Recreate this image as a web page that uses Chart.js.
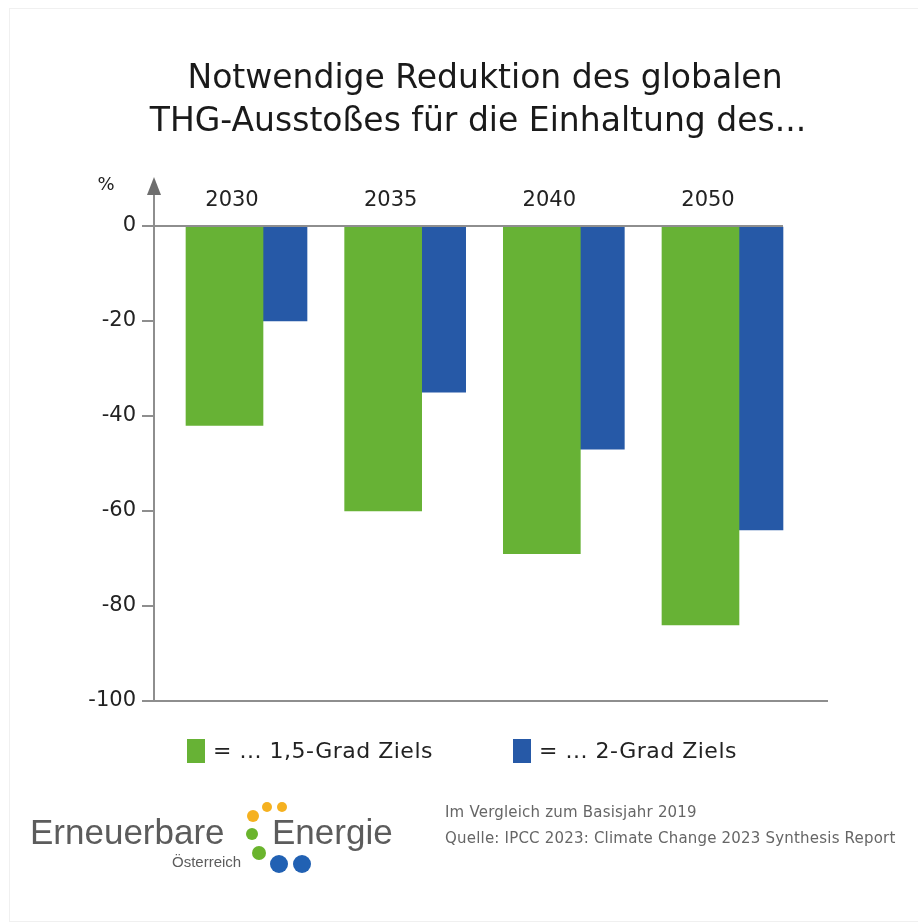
<!DOCTYPE html>
<html>
<head>
<meta charset="utf-8">
<script src="https://cdn.jsdelivr.net/npm/chart.js@4.4.0/dist/chart.umd.min.js"></script>
<style>
  body { margin: 0; background: #fff; }
  #wrap { position: relative; width: 918px; height: 922px; overflow: hidden; }
  #frame { position: absolute; left: 9px; top: 8px; width: 920px; height: 912px; border: 1px solid #f0f0f0; }
  canvas { position: absolute; left: 0; top: 0; }
  .abs { position: absolute; white-space: nowrap; }
  .legbox { position: absolute; width: 18px; height: 24px; }
  .legtxt { font: 22px "DejaVu Sans", sans-serif; color: #222; line-height: 24px; letter-spacing: 0.5px; }
  .logo { font-family: "Liberation Sans", Arial, sans-serif; color: #5c5c5c; }
  .dot { position: absolute; border-radius: 50%; }
  .src { font: 15px "DejaVu Sans", sans-serif; color: #666; letter-spacing: 0.2px; }
</style>
</head>
<body>
<div id="wrap">
  <div id="frame"></div>
  <canvas id="chart" width="918" height="922"></canvas>

  <div id="legend"></div>

  <div class="abs logo" style="left:30px; top:812px; font-size:35px; line-height:40px;">Erneuerbare</div>
  <div class="abs logo" style="left:272px; top:812px; font-size:35px; line-height:40px;">Energie</div>
  <div class="abs logo" style="left:172px; top:852px; font-size:15px; line-height:20px;">Österreich</div>
  <div id="dots"></div>

  <div class="abs src" style="left:445px; top:803px;">Im Vergleich zum Basisjahr 2019</div>
  <div class="abs src" style="left:445px; top:829px;">Quelle: IPCC 2023: Climate Change 2023 Synthesis Report</div>
</div>

<script>
"use strict";

// Chart data
const categories = ['2030', '2035', '2040', '2050'];
const target15 = [-42, -60, -69, -84];
const target2 = [-20, -35, -47, -64];
const seriesNames = ['= ... 1,5-Grad Ziels', '= ... 2-Grad Ziels'];
const yTicks = [0, -20, -40, -60, -80, -100];
const titleLines = ['Notwendige Reduktion des globalen', 'THG-Ausstoßes für die Einhaltung des...'];

const green = '#67b235';
const blue = '#2659a7';
const axisGrey = '#8e8e8e';

// Legend (html)
const legend = document.getElementById('legend');
const legendX = [187, 513];
[green, blue].forEach(function (col, i) {
    const box = document.createElement('div');
    box.className = 'legbox';
    box.style.left = legendX[i] + 'px';
    box.style.top = '739px';
    box.style.background = col;
    legend.appendChild(box);
    const txt = document.createElement('div');
    txt.className = 'abs legtxt';
    txt.style.left = (legendX[i] + 26) + 'px';
    txt.style.top = '739px';
    txt.textContent = seriesNames[i];
    legend.appendChild(txt);
});

// Logo dots
const dots = [
    [267, 807, 5, '#f5b120'], [282, 807, 5, '#f5b120'], [253, 816, 6, '#f5b120'],
    [252, 834, 6, '#6ab42d'], [259, 853, 7, '#6ab42d'],
    [279, 864, 9, '#2161b3'], [302, 864, 9, '#2161b3']
];
const dotsEl = document.getElementById('dots');
dots.forEach(function (d) {
    const el = document.createElement('div');
    el.className = 'dot';
    el.style.left = (d[0] - d[2]) + 'px';
    el.style.top = (d[1] - d[2]) + 'px';
    el.style.width = el.style.height = (d[2] * 2) + 'px';
    el.style.background = d[3];
    dotsEl.appendChild(el);
});

// Title, axes with arrow, zero line, category labels on top
const axisPlugin = {
    id: 'axisPlugin',
    afterDatasetsDraw(chart) {
        const ctx = chart.ctx;
        const area = chart.chartArea;
        const x = chart.scales.x;
        const y = chart.scales.y;
        const y0 = y.getPixelForValue(0);
        const yMin = y.getPixelForValue(-100);
        const lastBar = chart.getDatasetMeta(1).data[categories.length - 1];

        ctx.save();
        ctx.strokeStyle = axisGrey;
        ctx.lineWidth = 2;
        // y axis line
        ctx.beginPath();
        ctx.moveTo(area.left, yMin);
        ctx.lineTo(area.left, 188);
        ctx.stroke();
        // bottom line
        ctx.beginPath();
        ctx.moveTo(area.left, yMin);
        ctx.lineTo(area.right, yMin);
        ctx.stroke();
        // zero line up to last bar
        ctx.beginPath();
        ctx.moveTo(area.left, y0);
        ctx.lineTo(lastBar.x + lastBar.width / 2, y0);
        ctx.stroke();

        // arrow head
        ctx.fillStyle = '#6e6e6e';
        ctx.beginPath();
        ctx.moveTo(area.left, 177);
        ctx.lineTo(area.left - 7, 195);
        ctx.lineTo(area.left + 7, 195);
        ctx.closePath();
        ctx.fill();

        ctx.textAlign = 'center';
        ctx.textBaseline = 'middle';

        ctx.fillStyle = '#1a1a1a';
        ctx.font = '33px "DejaVu Sans"';
        ctx.fillText(titleLines[0], 485, 79);
        ctx.fillText(titleLines[1], 478, 122);

        ctx.fillStyle = '#222';
        ctx.font = '18px "DejaVu Sans"';
        ctx.fillText('%', 106, 185);

        ctx.font = '21px "DejaVu Sans"';
        categories.forEach(function (c, i) {
            ctx.fillText(c, x.getPixelForValue(i) - 31, 201);
        });
        ctx.restore();
    }
};

new Chart(document.getElementById('chart'), {
    type: 'bar',
    data: {
        datasets: [
            {
                label: seriesNames[0],
                data: target15.map(function (v, i) { return { x: i, y: v }; }),
                backgroundColor: green,
                barThickness: 77,
            },
            {
                label: seriesNames[1],
                data: target2.map(function (v, i) { return { x: i, y: v }; }),
                backgroundColor: blue,
                barThickness: 44,
            }
        ]
    },
    options: {
        responsive: false,
        animation: false,
        devicePixelRatio: 1,
        layout: { padding: { left: 74, right: 90, top: 226, bottom: 221 } },
        plugins: {
            legend: { display: false },
            tooltip: { enabled: false },
            title: { display: false }
        },
        scales: {
            x: {
                type: 'linear',
                display: false,
                offset: false,
                min: -0.687,
                max: 3.561,
            },
            y: {
                min: -100,
                max: 0,
                afterFit: function (scale) { scale.width = 80; },
                afterBuildTicks: function (scale) {
                    scale.ticks = yTicks.map(function (v) { return { value: v }; });
                },
                border: { display: false },
                grid: {
                    drawOnChartArea: false,
                    drawTicks: true,
                    tickLength: 12,
                    color: axisGrey,
                    lineWidth: 2
                },
                ticks: {
                    padding: 6,
                    color: '#222',
                    font: { family: 'DejaVu Sans', size: 21 }
                }
            }
        }
    },
    plugins: [axisPlugin]
});
</script>
</body>
</html>
